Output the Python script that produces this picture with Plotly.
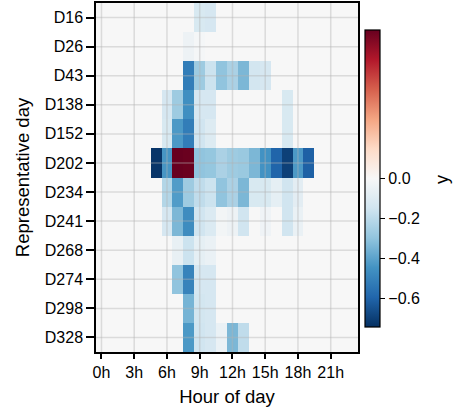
import plotly.graph_objects as go
import plotly.express as px

days = ["D16", "D26", "D43", "D138", "D152", "D202", "D234", "D241", "D268", "D274", "D298", "D328"]
hours = list(range(24))
hour_ticks = [0, 3, 6, 9, 12, 15, 18, 21]
hour_labels = ["0h", "3h", "6h", "9h", "12h", "15h", "18h", "21h"]

#            0  1  2  3  4  5      6      7      8      9      10     11     12     13     14     15     16     17     18     19  20 21 22 23
d16  = [0, 0, 0, 0, 0, 0,     0,     0,     0,     -0.12, -0.13, 0,     0,     0,     0,     0,     0,     0,     0,     0,     0, 0, 0, 0]
d26  = [0, 0, 0, 0, 0, 0,     0,     0,     -0.04, -0.01, 0,     0,     0,     0,     0,     0,     0,     0,     0,     0,     0, 0, 0, 0]
d43  = [0, 0, 0, 0, 0, 0,     0,     0,     -0.52, -0.27, -0.16, -0.30, -0.24, -0.34, -0.14, -0.13, 0,     0,     0,     0,     0, 0, 0, 0]
d138 = [0, 0, 0, 0, 0, 0,     -0.13, -0.27, -0.46, -0.13, -0.13, 0,     0,     0,     0,     0,     0,     -0.12, 0,     0,     0, 0, 0, 0]
d152 = [0, 0, 0, 0, 0, 0,     -0.12, -0.43, -0.52, -0.15, -0.10, 0,     0,     0,     0,     0,     0,     -0.12, 0,     0,     0, 0, 0, 0]
d202 = [0, 0, 0, 0, 0, -0.73, -0.44, 0.745, 0.74,  -0.30, -0.29, -0.24, -0.27, -0.28, -0.34, -0.45, -0.60, -0.70, -0.43, -0.61, 0, 0, 0, 0]
d234 = [0, 0, 0, 0, 0, 0,     -0.22, -0.42, -0.27, -0.19, -0.16, -0.30, -0.24, -0.34, -0.12, -0.12, -0.07, -0.15, -0.08, 0,     0, 0, 0, 0]
d241 = [0, 0, 0, 0, 0, 0,     -0.13, -0.34, -0.47, -0.15, -0.11, -0.02, -0.04, -0.15, 0,     -0.03, 0,     -0.15, -0.05, 0,     0, 0, 0, 0]
d268 = [0, 0, 0, 0, 0, 0,     0,     -0.06, -0.16, -0.07, -0.05, 0,     0,     0,     0,     0,     0,     0,     0,     0,     0, 0, 0, 0]
d274 = [0, 0, 0, 0, 0, 0,     0,     -0.30, -0.50, -0.13, -0.13, 0,     0,     0,     0,     0,     0,     0,     0,     0,     0, 0, 0, 0]
d298 = [0, 0, 0, 0, 0, 0,     0,     0,     -0.35, -0.14, -0.13, 0,     0,     0,     0,     0,     0,     0,     0,     0,     0, 0, 0, 0]
d328 = [0, 0, 0, 0, 0, 0,     0,     0,     -0.43, -0.15, -0.13, -0.05, -0.34, -0.19, 0,     0,     0,     0,     0,     0,     0, 0, 0, 0]

z = [d16, d26, d43, d138, d152, d202, d234, d241, d268, d274, d298, d328]
cbar_ticks = [0.0, -0.2, -0.4, -0.6]

rdbu = px.colors.diverging.RdBu[::-1]
n = len(rdbu)
colorscale = [[i / (n - 1), c] for i, c in enumerate(rdbu)]

row_idx = list(range(len(days)))
FONT = "Liberation Sans, Arial, sans-serif"
PAD = "<span style='color:white'>.</span>"

fig = go.Figure(go.Heatmap(
    z=z, x=hours, y=row_idx,
    colorscale=colorscale, zmid=0,
    xgap=0, ygap=0,
    colorbar=dict(
        thickness=15, len=0.852, lenmode="fraction",
        x=1.0, xanchor="left", xpad=7, y=0.497, yanchor="middle", ypad=0,
        outlinewidth=1.2, outlinecolor="black",
        ticks="outside", ticklen=5, tickwidth=1.2, tickcolor="black",
        tickvals=cbar_ticks, tickformat=".1f",
        tickprefix=PAD,
        tickfont=dict(size=16, family=FONT, color="black"),
    ),
))

shapes = []
for h in hour_ticks:
    shapes.append(dict(type="line", xref="x", yref="paper", x0=h, x1=h, y0=0, y1=1,
                       line=dict(color="rgba(178,178,178,0.4)", width=1.5), layer="above"))
for i in row_idx:
    shapes.append(dict(type="line", xref="paper", yref="y", x0=0, x1=1, y0=i, y1=i,
                       line=dict(color="rgba(178,178,178,0.4)", width=1.5), layer="above"))

fig.update_layout(
    width=455, height=412,
    margin=dict(l=96, r=97, t=1, b=60),
    paper_bgcolor="white", plot_bgcolor="white",
    font=dict(family=FONT, size=16, color="black"),
    shapes=shapes,
    annotations=[dict(text="y", textangle=-90, xref="paper", yref="paper",
                      x=1.3206, y=0.496, xanchor="center", yanchor="middle",
                      showarrow=False, font=dict(size=18, family=FONT, color="black"))],
    xaxis=dict(
        tickvals=hour_ticks, ticktext=hour_labels, range=[-0.5, 23.5],
        showgrid=False, zeroline=False,
        showline=True, linecolor="black", linewidth=1.5, mirror=True,
        ticks="outside", ticklen=5, tickwidth=1.5, tickcolor="black",
        tickfont=dict(size=16),
        title=dict(text="Hour of day", font=dict(size=18.5), standoff=10),
    ),
    yaxis=dict(
        tickvals=row_idx, ticktext=days, range=[len(days) - 0.5, -0.5],
        showgrid=False, zeroline=False,
        showline=True, linecolor="black", linewidth=1.5, mirror=True,
        ticks="outside", ticklen=8, tickwidth=1.5, tickcolor="black",
        tickfont=dict(size=16), ticksuffix=PAD,
        title=dict(text="Representative day", font=dict(size=18.5), standoff=10),
    ),
)

fig.write_html("out.html", config={"displayModeBar": False},
               post_script="document.body.style.margin='0';")
